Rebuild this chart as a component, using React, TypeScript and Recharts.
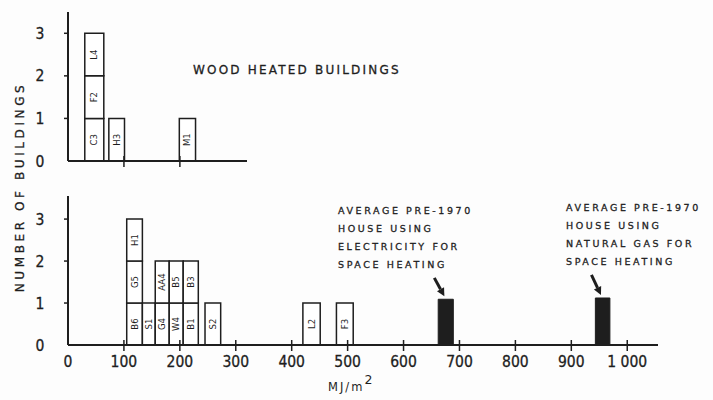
import React from 'react';
import { ComposedChart, XAxis, YAxis, ReferenceArea, ReferenceLine, Scatter } from 'recharts';

// wood heated buildings: bin edges in MJ/m2 and the building codes stacked in each bin
const woodStart = [30, 73, 199];
const woodEnd = [64, 101, 228];
const woodNames = [['C3', 'F2', 'L4'], ['H3'], ['M1']];

// other buildings
const otherStart = [105, 133, 156, 181, 206, 245, 420, 480];
const otherEnd = [133, 156, 181, 206, 233, 273, 451, 510];
const otherNames = [['B6', 'G5', 'H1'], ['S1'], ['G4', 'AA4'], ['W4', 'B5'], ['B1', 'B3'], ['S2'], ['L2'], ['F3']];

// average pre-1970 houses
const avgStart = [662, 943];
const avgEnd = [689, 969];
const avgHeight = [1.09, 1.12];
const avgNotes = [
  ['AVERAGE PRE-1970', 'HOUSE USING', 'ELECTRICITY FOR', 'SPACE HEATING'],
  ['AVERAGE PRE-1970', 'HOUSE USING', 'NATURAL GAS FOR', 'SPACE HEATING'],
];
const arrowFrom = [[655, 1.6], [936, 1.67]];
const arrowTo = [[673, 1.16], [953, 1.19]];

const xTicks = [0, 100, 200, 300, 400, 500, 600, 700, 800, 900, 1000];
const xTickLabels = ['0', '100', '200', '300', '400', '500', '600', '700', '800', '900', '1 000'];
const yTicks = [0, 1, 2, 3];
const yTickLabels = ['0', '1', '2', '3'];

const ink = '#1e1e1e';
const numFont = '"Liberation Sans Narrow", "DejaVu Sans Condensed", sans-serif';
const capsFont = '"DejaVu Sans", sans-serif';

function toBoxes(starts: number[], ends: number[], names: string[][]) {
  const rows: { x1: number; x2: number; y1: number; y2: number; name: string }[] = [];
  starts.forEach((s, i) => {
    names[i].forEach((n, level) => {
      rows.push({ x1: s, x2: ends[i], y1: level, y2: level + 1, name: n });
    });
  });
  return rows;
}

const woodBoxes = toBoxes(woodStart, woodEnd, woodNames);
const otherBoxes = toBoxes(otherStart, otherEnd, otherNames);

const XTick = (props: any) => {
  const { x, y, payload, showLabels } = props;
  const i = xTicks.indexOf(payload.value);
  return (
    <g>
      {payload.value !== 0 && <line x1={x} x2={x} y1={y - 5} y2={y + 6} stroke={ink} strokeWidth={1.5} />}
      {showLabels && (
        <text x={x} y={y + 22} textAnchor="middle" fontSize={15.5} fontFamily={numFont} fill={ink} stroke={ink} strokeWidth={0.3}>
          {xTickLabels[i]}
        </text>
      )}
    </g>
  );
};

const YTick = (props: any) => {
  const { x, y, payload } = props;
  const i = yTicks.indexOf(payload.value);
  return (
    <g>
      {payload.value !== 0 && <line x1={x - 4} x2={x + 1} y1={y} y2={y} stroke={ink} strokeWidth={1.5} />}
      <text x={x - 28} y={y + 5.5} textAnchor="middle" fontSize={15.5} fontFamily={numFont} fill={ink} stroke={ink} strokeWidth={0.3}>
        {yTickLabels[i]}
      </text>
    </g>
  );
};

const Arrow = (p: any) => {
  const { x1, y1, x2, y2 } = p;
  const a = Math.atan2(y2 - y1, x2 - x1);
  const head = 8;
  const bx = x2 - head * Math.cos(a);
  const by = y2 - head * Math.sin(a);
  const px = Math.cos(a + Math.PI / 2) * 4;
  const py = Math.sin(a + Math.PI / 2) * 4;
  return (
    <g>
      <line x1={x1} y1={y1} x2={bx} y2={by} stroke={ink} strokeWidth={3} />
      <polygon points={`${x2},${y2} ${bx + px},${by + py} ${bx - px},${by - py}`} fill={ink} />
    </g>
  );
};

const boxLabel = (name: string) => ({
  value: name,
  position: 'center' as const,
  angle: -90,
  fontSize: 8.5,
  fontFamily: capsFont,
  fill: ink,
});

const Nothing = () => <g />;

const noteStyle: React.CSSProperties = {
  position: 'absolute',
  fontFamily: capsFont,
  fontSize: 9.5,
  letterSpacing: 2.6,
  lineHeight: '18px',
  color: ink,
  whiteSpace: 'pre',
  WebkitTextStroke: '0.3px #1e1e1e',
};

export default function App() {
  return (
    <div style={{ position: 'absolute', left: 0, top: 0, width: 713, height: 400, background: '#fdfdfd', overflow: 'hidden' }}>
      {/* top panel */}
      <div style={{ position: 'absolute', left: 0, top: 0 }}>
        <ComposedChart width={713} height={400} data={woodBoxes} margin={{ top: 12, right: 466, left: 28, bottom: 229 }}>
          <XAxis
            type="number"
            dataKey="x1"
            domain={[0, 320]}
            ticks={[100, 200]}
            height={10}
            tickSize={0}
            tickMargin={0}
            tickLine={false}
            axisLine={{ stroke: ink, strokeWidth: 2 }}
            tick={<XTick showLabels={false} />}
          />
          <YAxis
            type="number"
            domain={[0, 3.5]}
            ticks={yTicks}
            width={40}
            tickSize={0}
            tickMargin={0}
            tickLine={false}
            axisLine={{ stroke: ink, strokeWidth: 2 }}
            tick={<YTick />}
          />
          <Scatter data={woodBoxes} dataKey="y2" shape={Nothing} isAnimationActive={false} />
          {woodBoxes.map((b, i) => (
            <ReferenceArea
              key={`w-${i}`}
              x1={b.x1}
              x2={b.x2}
              y1={b.y1}
              y2={b.y2}
              fill="#ffffff"
              fillOpacity={1}
              stroke={ink}
              strokeWidth={1.5}
              label={boxLabel(b.name)}
            />
          ))}
        </ComposedChart>
      </div>

      {/* bottom panel */}
      <div style={{ position: 'absolute', left: 0, top: 0 }}>
        <ComposedChart width={713} height={400} data={otherBoxes} margin={{ top: 196, right: 55, left: 28, bottom: 25 }}>
          <XAxis
            type="number"
            dataKey="x1"
            domain={[0, 1055]}
            ticks={xTicks}
            height={30}
            tickSize={0}
            tickMargin={0}
            tickLine={false}
            axisLine={{ stroke: ink, strokeWidth: 2 }}
            tick={<XTick showLabels />}
          />
          <YAxis
            type="number"
            domain={[0, 3.55]}
            ticks={yTicks}
            width={40}
            tickSize={0}
            tickMargin={0}
            tickLine={false}
            axisLine={{ stroke: ink, strokeWidth: 2 }}
            tick={<YTick />}
          />
          <Scatter data={otherBoxes} dataKey="y2" shape={Nothing} isAnimationActive={false} />
          {otherBoxes.map((b, i) => (
            <ReferenceArea
              key={`o-${i}`}
              x1={b.x1}
              x2={b.x2}
              y1={b.y1}
              y2={b.y2}
              fill="#ffffff"
              fillOpacity={1}
              stroke={ink}
              strokeWidth={1.5}
              label={boxLabel(b.name)}
            />
          ))}
          {avgStart.map((s, i) => (
            <ReferenceArea
              key={`a-${i}`}
              x1={s}
              x2={avgEnd[i]}
              y1={0}
              y2={avgHeight[i]}
              fill="#1e1e1e"
              fillOpacity={1}
              stroke={ink}
              strokeWidth={1}
            />
          ))}
          {arrowFrom.map((f, i) => (
            <ReferenceLine
              key={`ar-${i}`}
              segment={[{ x: f[0], y: f[1] }, { x: arrowTo[i][0], y: arrowTo[i][1] }]}
              stroke={ink}
              shape={Arrow}
            />
          ))}
        </ComposedChart>
      </div>

      <div style={{ ...noteStyle, left: 193, top: 61, fontSize: 12, letterSpacing: 2.2 }}>WOOD HEATED BUILDINGS</div>
      <div style={{ ...noteStyle, left: 338, top: 202 }}>{avgNotes[0].join('\n')}</div>
      <div style={{ ...noteStyle, left: 566, top: 199 }}>{avgNotes[1].join('\n')}</div>

      <div
        style={{
          position: 'absolute',
          left: 20,
          top: 187,
          transform: 'translate(-50%, -50%) rotate(-90deg)',
          fontFamily: capsFont,
          fontSize: 12,
          letterSpacing: 3.6,
          color: ink,
          whiteSpace: 'nowrap',
          WebkitTextStroke: '0.3px #1e1e1e',
        }}
      >
        NUMBER OF BUILDINGS
      </div>

      <div style={{ position: 'absolute', left: 328, top: 374, fontFamily: capsFont, fontSize: 11.5, letterSpacing: 2, color: ink }}>
        MJ/m<sup style={{ fontSize: 12.5, position: 'relative', top: -2 }}>2</sup>
      </div>
    </div>
  );
}
